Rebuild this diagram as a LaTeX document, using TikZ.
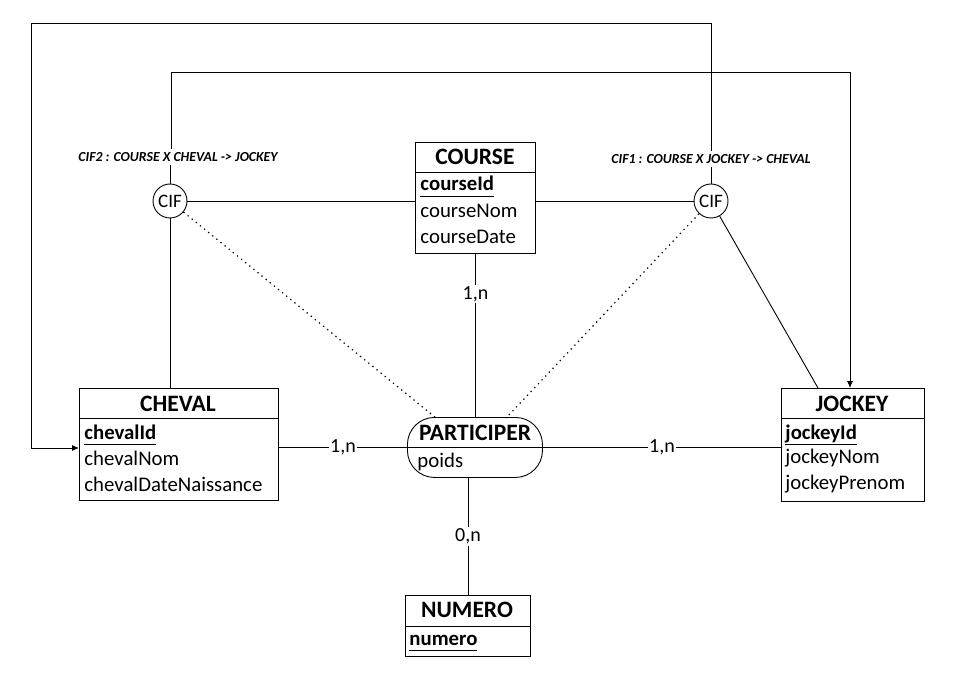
\documentclass[tikz,border=0pt]{standalone}
\usepackage{fontspec}
\setmainfont{Carlito}
\usetikzlibrary{arrows.meta}
\newcommand{\keyattr}[1]{\underline{\textbf{#1}\vphantom{g}}}
\begin{document}
\begin{tikzpicture}[x=1pt,y=-1pt, line width=0.9pt,
  ent/.style={draw, line width=0.9pt, anchor=north west, inner sep=0},
  hdr/.style={font=\fontsize{23.5}{23.5}\selectfont\bfseries, inner sep=0},
  attr/.style={font=\fontsize{20.8}{20.8}\selectfont, anchor=west, inner sep=0},
  keyat/.style={font=\fontsize{20.8}{20.8}\selectfont, anchor=base west, inner sep=0},
  card/.style={fill=white, font=\fontsize{20}{20}\selectfont, inner sep=1.5pt},
  cif/.style={draw, circle, minimum size=34, inner sep=0, font=\fontsize{19}{19}\selectfont},
  ciflbl/.style={font=\fontsize{13.8}{13.8}\selectfont\bfseries\itshape, inner sep=3pt},
  arr/.style={-{Latex[length=7pt,width=6pt]}},
  dots/.style={dash pattern=on 1.3pt off 4pt, line width=1.2pt}
]
\useasboundingbox (0,0) rectangle (956,676);

% COURSE
\node[ent, minimum width=120, minimum height=111] (course) at (415,142) {};
\draw (415,172) -- (535,172);
\node[hdr] (courseH) at (475,157) {COURSE};
\node[keyat] (courseA1) at (420,191) {\keyattr{courseId}};
\node[attr] (courseA2) at (420,211) {courseNom};
\node[attr] (courseA3) at (420,237) {courseDate};

% CHEVAL
\node[ent, minimum width=199, minimum height=112] (cheval) at (79,388) {};
\draw (79,418) -- (278,418);
\node[hdr] (chevalH) at (178,404) {CHEVAL};
\node[keyat] (chevalA1) at (84,439) {\keyattr{chevalId}};
\node[attr] (chevalA2) at (84,458) {chevalNom};
\node[attr] (chevalA3) at (84,484) {chevalDateNaissance};

% JOCKEY
\node[ent, minimum width=143, minimum height=113] (jockey) at (781,388) {};
\draw (781,418) -- (924,418);
\node[hdr] (jockeyH) at (852,404) {JOCKEY};
\node[keyat] (jockeyA1) at (785,439) {\keyattr{jockeyId}};
\node[attr] (jockeyA2) at (785,458) {jockeyNom};
\node[attr] (jockeyA3) at (785,484) {jockeyPrenom};

% NUMERO
\node[ent, minimum width=125, minimum height=61] (numero) at (405,595) {};
\draw (405,626) -- (530,626);
\node[hdr] (numeroH) at (467,610) {NUMERO};
\node[keyat] (numeroA1) at (409,645) {\keyattr{numero}};

% PARTICIPER
\node[draw, rounded corners=27, minimum width=135, minimum height=60, anchor=north west, inner sep=0] (part) at (407,417) {};
\draw (407,447) -- (542,447);
\node[hdr] (partH) at (475,433) {PARTICIPER};
\node[attr] (partA1) at (417,462) {poids};

% CIF
\node[cif] (cifL) at (170,201) {CIF};
\node[cif] (cifR) at (711,201) {CIF};
\node[ciflbl] (lbl2) at (178,157) {CIF2 : COURSE X CHEVAL -> JOCKEY};
\node[ciflbl] (lbl1) at (711,159) {CIF1 : COURSE X JOCKEY -> CHEVAL};

\coordinate (pL) at (436,418);
\coordinate (pR) at (506,418);
\coordinate (jk) at (818,388);
\coordinate (t2) at (171,72);
\coordinate (t2r) at (850,72);
\coordinate (t1) at (711,23);
\coordinate (t1l) at (31,23);
\coordinate (t1b) at (31,448);

% associations
\draw (course.south) -- node[card, pos=0.245] (c1) {1,n} (part.north -| course.south);
\draw (part.west -| cheval.east) -- node[card] (c2) {1,n} (part.west);
\draw (part.east) -- node[card] (c3) {1,n} (part.east -| jockey.west);
\draw (part.south -| numero.north) -- node[card] (c4) {0,n} (numero.north);

% CIF links
\draw (cifL) -- (course.west |- cifL);
\draw (cifR) -- (course.east |- cifR);
\draw (cifL) -- (cheval.north -| cifL);
\draw (cifR) -- (jk);
\draw[dots] (cifL) -- (pL);
\draw[dots] (cifR) -- (pR);
\draw (cifL) -- (cifL |- lbl2.south);
\draw (cifR) -- (cifR |- lbl1.south);
\draw[arr] (lbl2.north -| t2) -- (t2) -- (t2r) -- (t2r |- jockey.north);
\draw[arr] (lbl1.north -| t1) -- (t1) -- (t1l) -- (t1b) -- (t1b -| cheval.west);
\end{tikzpicture}
\end{document}
